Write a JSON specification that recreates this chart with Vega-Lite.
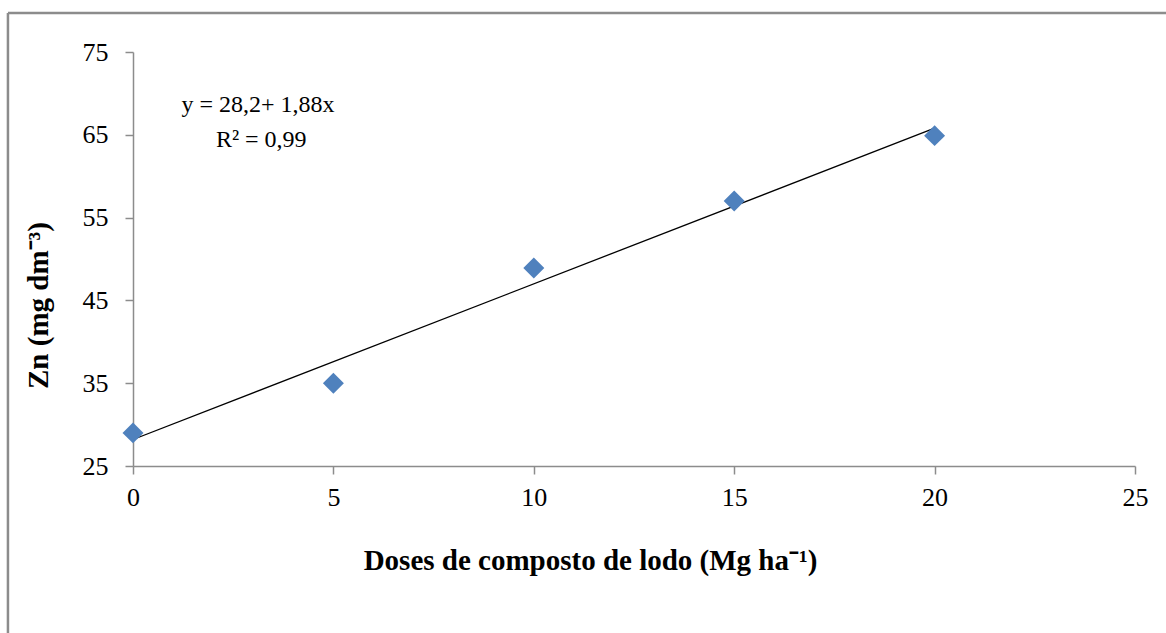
{
  "$schema": "https://vega.github.io/schema/vega-lite/v6.json",
  "width": 1002,
  "height": 414,
  "autosize": "none",
  "padding": {"left": 133, "top": 52, "right": 31, "bottom": 167},
  "background": "white",
  "config": {
    "view": {"stroke": null},
    "font": "Liberation Serif",
    "axis": {"grid": false, "labelFlush": false, "domainColor": "#8c8c8c", "tickColor": "#8c8c8c", "domainWidth": 1.5, "tickWidth": 1.5, "labelFont": "Liberation Serif", "labelFontSize": 26, "labelColor": "#000000", "titleFont": "Liberation Serif", "titleFontSize": 29, "titleFontWeight": "bold", "titleColor": "#000000", "tickSize": 8}
  },
  "datasets": {
    "pts": [
      {"dose": 0, "zn": 29.0},
      {"dose": 5, "zn": 35.0},
      {"dose": 10, "zn": 48.9},
      {"dose": 15, "zn": 57.0},
      {"dose": 20, "zn": 64.9}
    ],
    "fit": [
      {"dose": 0, "zn": 28.2},
      {"dose": 20, "zn": 65.8}
    ],
    "eq": [
      {"dose": 3.12, "zn": 68.6, "label": "y = 28,2+ 1,88x"},
      {"dose": 3.2, "zn": 64.4, "label": "R² = 0,99"}
    ],
    "frame": [
      {"dose": -3.12, "dose2": 30, "zn": 79.71, "zn2": 79.71},
      {"dose": -3.12, "dose2": -3.12, "zn": 79.71, "zn2": 3}
    ]
  },
  "encoding": {
    "x": {"field": "dose", "type": "quantitative", "scale": {"domain": [0, 25], "nice": false, "zero": false, "padding": 0},
      "axis": {"values": [0, 5, 10, 15, 20, 25], "title": "Doses de composto de lodo (Mg ha⁻¹)", "labelPadding": 10, "titleX": 457, "titleY": 94, "titleBaseline": "middle", "titleAlign": "center"}},
    "y": {"field": "zn", "type": "quantitative", "scale": {"domain": [25, 75], "nice": false, "zero": false, "padding": 0},
      "axis": {"values": [25, 35, 45, 55, 65, 75], "title": "Zn (mg dm⁻³)", "labelPadding": 17, "titleX": -95, "titleY": 253, "titleAngle": -90, "titleBaseline": "middle", "titleAlign": "center"}}
  },
  "layer": [
    {
      "data": {"name": "frame"},
      "mark": {"type": "rule", "color": "#8c8c8c", "strokeWidth": 2.5, "clip": false},
      "encoding": {
        "x2": {"field": "dose2"},
        "y2": {"field": "zn2"}
      }
    },
    {
      "data": {"name": "fit"},
      "mark": {"type": "line", "color": "#000000", "strokeWidth": 1.3}
    },
    {
      "data": {"name": "pts"},
      "mark": {"type": "point", "shape": "diamond", "filled": true, "color": "#4f81bd", "opacity": 1, "size": 440}
    },
    {
      "data": {"name": "eq"},
      "mark": {"type": "text", "fontSize": 24, "font": "Liberation Serif", "color": "#000000", "align": "center", "baseline": "middle"},
      "encoding": {
        "text": {"field": "label"}
      }
    }
  ]
}
